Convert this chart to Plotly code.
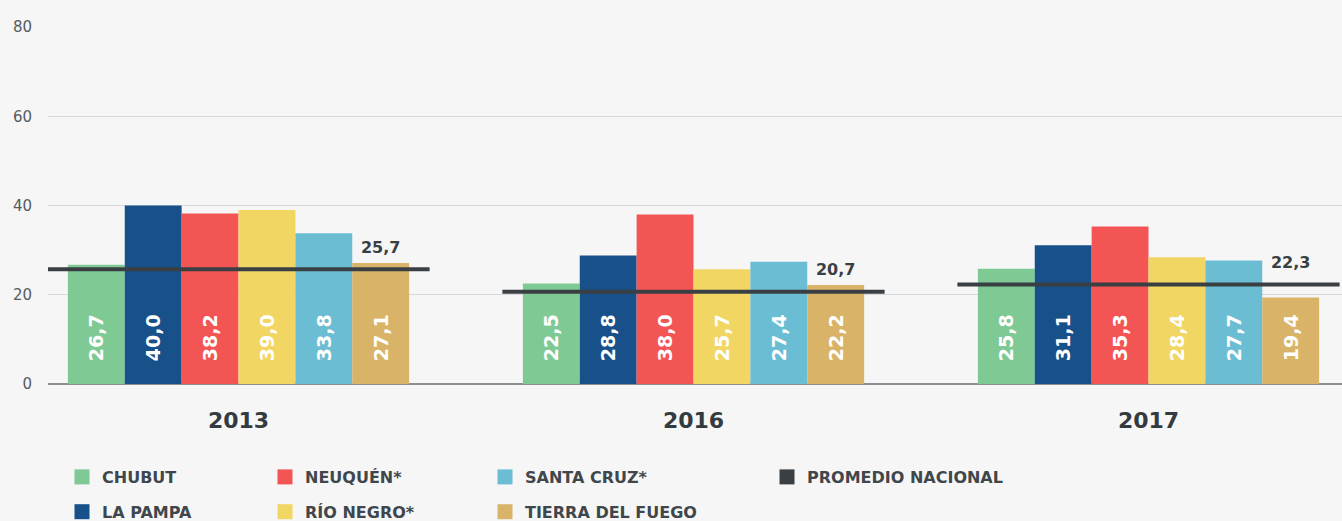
import plotly.graph_objects as go

years = ["2013", "2016", "2017"]
provinces = ["CHUBUT", "LA PAMPA", "NEUQUÉN*", "RÍO NEGRO*", "SANTA CRUZ*", "TIERRA DEL FUEGO"]
chubut = [26.7, 22.5, 25.8]
la_pampa = [40.0, 28.8, 31.1]
neuquen = [38.2, 38.0, 35.3]
rio_negro = [39.0, 25.7, 28.4]
santa_cruz = [33.8, 27.4, 27.7]
tierra_del_fuego = [27.1, 22.2, 19.4]
promedio_nacional = [25.7, 20.7, 22.3]
avg_name = "PROMEDIO NACIONAL"
y_ticks = [0, 20, 40, 60, 80]

series = [chubut, la_pampa, neuquen, rio_negro, santa_cruz, tierra_del_fuego]
colors = ["#7fc995", "#18508a", "#f35555", "#f2d663", "#6bbdd3", "#d9b468"]
legend_ids = ["legend", "legend", "legend2", "legend2", "legend3", "legend3"]

FONT = "DejaVu Sans"
BG = "#f6f6f6"
DARK = "#3a3f43"
NBSP = "\u00a0"

bargap = 0.25
n = len(provinces)
group_w = 1 - bargap
bar_w = group_w / n
last_offset = -group_w / 2 + bar_w * (n - 0.5)
half_line = 0.42

xpos = list(range(len(years)))

fig = go.Figure()
for i, (name, vals, col) in enumerate(zip(provinces, series, colors)):
    fig.add_trace(go.Bar(
        x=xpos, y=vals, name=name,
        marker=dict(color=col, line=dict(width=0)),
        text=vals, texttemplate=NBSP * 3 + "%{y:.1f}",
        textposition="inside", insidetextanchor="start", textangle=-90,
        insidetextfont=dict(family=FONT, size=19, color="white", weight="bold"),
        showlegend=False, hoverinfo="skip",
    ))
    # legend swatch
    fig.add_trace(go.Scatter(
        x=[None], y=[None], mode="markers", name=name,
        marker=dict(symbol="square", size=15, color=col),
        legend=legend_ids[i], legendgroup=name,
    ))

lx, ly = [], []
for xi, v in zip(xpos, promedio_nacional):
    lx += [xi - half_line, xi + half_line, None]
    ly += [v, v, None]
fig.add_trace(go.Scatter(
    x=lx, y=ly, mode="lines", line=dict(color=DARK, width=4),
    showlegend=False, hoverinfo="skip", cliponaxis=False,
))
fig.add_trace(go.Scatter(
    x=[xi + last_offset for xi in xpos], y=promedio_nacional,
    mode="markers+text", text=promedio_nacional, texttemplate="%{y:.1f}",
    textposition="top center",
    marker=dict(size=18, color="rgba(0,0,0,0)"),
    textfont=dict(family=FONT, size=16, color=DARK, weight="bold"),
    showlegend=False, hoverinfo="skip",
))
fig.add_trace(go.Scatter(
    x=[None], y=[None], mode="markers", name=avg_name,
    marker=dict(symbol="square", size=15, color=DARK),
    legend="legend4",
))

W, H = 1342, 521
px_per_unit = 455
c0 = 238.5
left = 48
x_range = [-(c0 - left) / px_per_unit, (W - c0) / px_per_unit]

legend_font = dict(family=FONT, size=16, color="#40474c", weight="bold")


def leg(xpx, ytop):
    return dict(
        xref="container", yref="container",
        x=xpx / W, y=1 - ytop / H, xanchor="left", yanchor="top",
        orientation="v", bgcolor="rgba(0,0,0,0)", borderwidth=0,
        font=legend_font, traceorder="grouped", tracegroupgap=11,
        itemclick=False, itemdoubleclick=False,
    )


fig.update_layout(
    width=W, height=H,
    paper_bgcolor=BG, plot_bgcolor=BG,
    margin=dict(l=left, r=0, t=27, b=H - 384, autoexpand=False),
    barmode="group", bargap=bargap, bargroupgap=0,
    separators=",.",
    showlegend=True,
    legend=leg(62, 460),
    legend2=leg(265, 460),
    legend3=leg(485, 460),
    legend4=leg(767, 460),
    xaxis=dict(
        range=x_range, tickvals=xpos, ticktext=years,
        showgrid=False, zeroline=False, showline=False,
        ticks="outside", ticklen=17, tickcolor="rgba(0,0,0,0)",
        tickfont=dict(family=FONT, size=22, color="#333b40", weight="bold"),
        tickangle=0, automargin=False,
        fixedrange=True,
    ),
    yaxis=dict(
        range=[0, 80], tickvals=y_ticks,
        showgrid=True, gridcolor="#d5d9dc", gridwidth=1,
        zeroline=True, zerolinecolor="#8a8f93", zerolinewidth=2,
        showline=False,
        ticks="outside", ticklen=12, tickcolor="rgba(0,0,0,0)",
        tickfont=dict(family=FONT, size=15, color="#555b60"),
        automargin=False,
        fixedrange=True,
    ),
)

fig.write_html("out.html", config={"displayModeBar": False},
               post_script="document.body.style.margin='0';")
